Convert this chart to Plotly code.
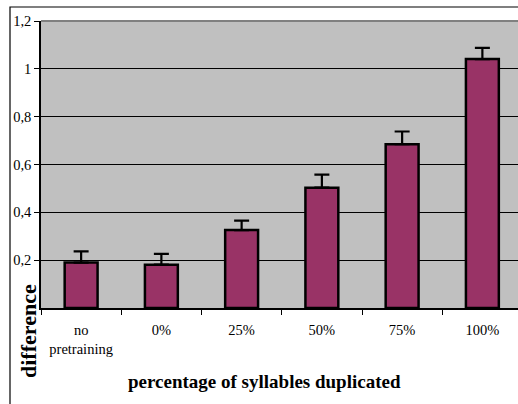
import plotly.graph_objects as go

categories = ["no<br>pretraining", "0%", "25%", "50%", "75%", "100%"]
values = [0.19, 0.181, 0.326, 0.503, 0.685, 1.041]
errors = [0.047, 0.045, 0.039, 0.055, 0.053, 0.047]
ytick_vals = [0.2, 0.4, 0.6, 0.8, 1.0, 1.2]
ytick_text = ["0,2", "0,4", "0,6", "0,8", "1", "1,2"]

W, H = 518, 404
L, R, T, B = 41, 0, 21, 96
pw, ph = W - L - R, H - T - B
cat_px = 80.25

fig = go.Figure()
fig.add_trace(go.Bar(
    x=categories, y=values, width=0.41,
    marker=dict(color="#993366", line=dict(color="black", width=2.5)),
    error_y=dict(type="data", symmetric=False, array=errors,
                 arrayminus=[0] * len(errors),
                 color="black", thickness=2.2, width=7.5),
))

font = "Liberation Serif"
fig.update_layout(
    width=W, height=H,
    margin=dict(l=L, r=R, t=T, b=B, pad=0),
    paper_bgcolor="white", plot_bgcolor="#C0C0C0",
    showlegend=False,
    font=dict(family=font, size=14.5, color="black"),
    xaxis=dict(type="category", range=[-0.5, -0.5 + pw / cat_px],
               tickson="boundaries", ticks="outside", ticklen=5,
               tickcolor="black", tickwidth=1, ticklabelstandoff=8,
               showline=True, linecolor="black", linewidth=1.5,
               showgrid=False, tickfont=dict(size=14.5, family=font)),
    yaxis=dict(range=[0, 1.2], tickvals=ytick_vals, ticktext=ytick_text,
               ticks="outside", ticklen=5, tickcolor="black", tickwidth=1,
               showline=True, linecolor="black", linewidth=1.5,
               showgrid=True, gridcolor="black", gridwidth=1,
               zeroline=False, tickfont=dict(size=14.5, family=font)),
    shapes=[
        dict(type="line", xref="paper", yref="paper", x0=0, x1=1, y0=1, y1=1,
             line=dict(color="#808080", width=2)),
        dict(type="rect", xref="paper", yref="paper",
             x0=(10 - L) / pw, x1=1.05, y0=-(H - T - ph + 10) / ph,
             y1=(ph + T - 7) / ph, line=dict(color="black", width=1.2),
             fillcolor="rgba(0,0,0,0)", layer="above"),
    ],
    annotations=[
        dict(text="<b>percentage of syllables duplicated</b>", xref="paper",
             yref="paper", x=(264 - L) / pw, y=-(381 - T - ph) / ph,
             showarrow=False, font=dict(size=19, family=font),
             xanchor="center", yanchor="middle"),
        dict(text="<b>difference</b>", xref="paper", yref="paper",
             x=(28 - L) / pw, y=-(331 - T - ph) / ph, textangle=-90,
             showarrow=False, font=dict(size=22, family=font),
             xanchor="center", yanchor="middle"),
    ],
)

fig.write_html(
    "out.html",
    config={"displayModeBar": False},
    post_script="document.body.style.margin='0';document.body.style.overflow='hidden';",
)
